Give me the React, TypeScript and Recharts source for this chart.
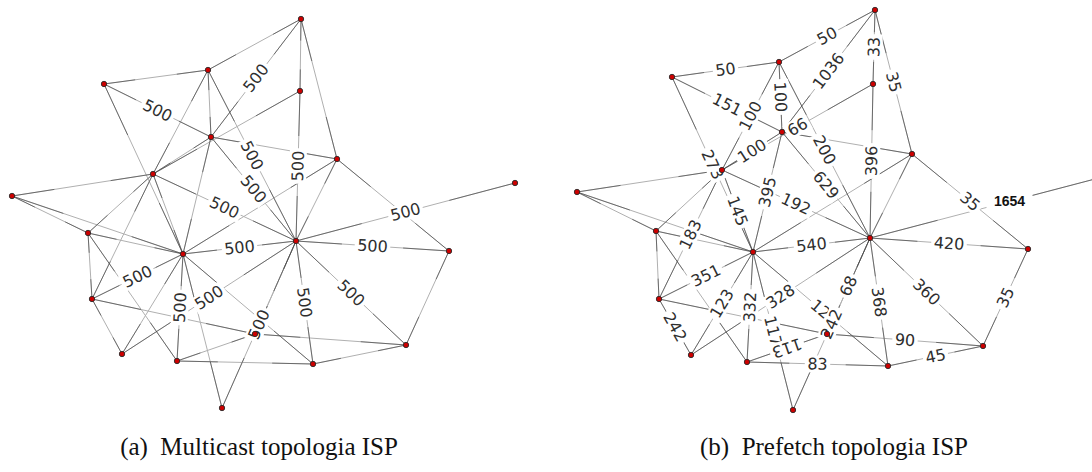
import { ScatterChart, Scatter, XAxis, YAxis } from 'recharts';

// node ids shared by both topologies
const nodeIds = ['A', 'B', 'C', 'D', 'E', 'F', 'G', 'H', 'I', 'J', 'K', 'L', 'M', 'N', 'O', 'P', 'Q', 'R', 'S', 'T'];

// (a) multicast – node positions
const multicastX = [208, 104, 211, 153, 12, 301, 300, 337, 515, 88, 183, 92, 122, 177, 255, 222, 296, 449, 406, 313];
const multicastY = [70, 84, 137, 174, 196, 19, 91, 159, 183, 233, 254, 299, 354, 361, 334, 408, 241, 251, 345, 364];

// (b) prefetch
const prefetchX = [779, 672, 782, 722, 577, 875, 873, 912, 1095, 656, 753, 659, 691, 747, 827, 793, 870, 1028, 983, 888];
const prefetchY = [62, 77, 132, 170, 192, 10, 84, 154, 179, 231, 252, 299, 355, 362, 334, 410, 238, 249, 346, 366];

const edges: [string, string][] = [
  ['A', 'B'], ['A', 'F'], ['F', 'C'], ['F', 'G'], ['F', 'H'], ['G', 'Q'], ['G', 'D'], ['A', 'C'],
  ['B', 'C'], ['A', 'D'], ['C', 'D'], ['A', 'Q'], ['C', 'Q'], ['B', 'K'], ['C', 'K'], ['D', 'Q'],
  ['D', 'K'], ['D', 'L'], ['K', 'Q'], ['L', 'K'], ['K', 'M'], ['K', 'N'], ['Q', 'M'], ['L', 'O'],
  ['K', 'T'], ['L', 'M'], ['N', 'T'], ['Q', 'O'], ['Q', 'P'], ['Q', 'T'], ['Q', 'S'], ['Q', 'R'],
  ['R', 'S'], ['O', 'S'], ['T', 'S'], ['H', 'R'], ['Q', 'I'], ['K', 'P'], ['N', 'O'], ['C', 'H'],
  ['H', 'K'], ['H', 'Q'], ['E', 'D'], ['E', 'J'], ['E', 'K'], ['J', 'D'], ['J', 'K'], ['J', 'L'],
  ['J', 'N'],
];

// edge weights, '' = no label drawn
const multicastWeights = [
  '', '', '500', '', '', '500', '', '',
  '500', '', '', '500', '500', '', '', '500',
  '', '', '500', '500', '', '500', '500', '',
  '', '', '', '', '500', '500', '500', '500',
  '', '', '', '', '500', '', '', '',
  '', '', '', '', '', '', '', '',
  '',
];
const prefetchWeights = [
  '50', '50', '1036', '33', '35', '396', '66', '100',
  '151', '100', '100', '200', '629', '273', '395', '192',
  '145', '183', '540', '351', '123', '332', '328', '',
  '12', '242', '83', '68', '242', '368', '360', '420',
  '35', '90', '45', '35', '1654', '117', '113', '',
  '', '', '', '', '', '', '', '',
  '',
];
const prefetchFlipped = ['N-O'];
const prefetchHighlight = ['Q-I'];

const captions = ['(a)  Multicast topologia ISP', '(b)  Prefetch topologia ISP'];

type Pt = { id: string; x: number; y: number };

function buildNodes(xs: number[], ys: number[]): Pt[] {
  return nodeIds.map((id, i) => ({ id, x: xs[i], y: ys[i] }));
}

function buildGraph(xs: number[], ys: number[], weights: string[], flipped: string[] = [], highlight: string[] = []) {
  const nodes = buildNodes(xs, ys);
  const byId: Record<string, Pt> = {};
  nodes.forEach((n) => (byId[n.id] = n));
  const segs = edges.map(([a, b]) => [byId[a], byId[b]]);
  const labels: any[] = [];
  edges.forEach(([a, b], i) => {
    const text = weights[i];
    if (!text) return;
    const p = byId[a];
    const q = byId[b];
    const key = `${a}-${b}`;
    const bold = highlight.includes(key);
    let angle = (Math.atan2(q.y - p.y, q.x - p.x) * 180) / Math.PI;
    if (angle > 90) angle -= 180;
    if (angle <= -90) angle += 180;
    if (flipped.includes(key)) angle += 180;
    const t = bold ? 0.62 : 0.5;
    labels.push({
      x: p.x + (q.x - p.x) * t,
      y: p.y + (q.y - p.y) * t,
      text,
      angle: bold ? 0 : angle,
      bold,
    });
  });
  return { nodes, segs, labels };
}

const multicast = buildGraph(multicastX, multicastY, multicastWeights);
const prefetch = buildGraph(prefetchX, prefetchY, prefetchWeights, prefetchFlipped, prefetchHighlight);

const NoShape = () => <g />;

const NodeShape = (props: any) => (
  <circle cx={props.cx} cy={props.cy} r={2.7} fill="#cc0000" stroke="#2a2a2a" strokeWidth={0.9} />
);

const LabelShape = (props: any) => {
  const { cx, cy, payload } = props;
  const bold = payload.bold;
  const w = payload.text.length * (bold ? 9.5 : 10.2) + (bold ? 8 : 5);
  return (
    <g transform={`translate(${cx},${cy}) rotate(${payload.angle})`}>
      <rect x={-w / 2} y={-8.5} width={w} height={17} fill="#fff" />
      <text
        x={0}
        y={0}
        textAnchor="middle"
        dominantBaseline="central"
        fontFamily={bold ? 'Liberation Sans, Arial, sans-serif' : 'DejaVu Sans, sans-serif'}
        fontWeight={bold ? 700 : 400}
        fontSize={bold ? 14 : 16}
        fill={bold ? '#111' : '#2e2e2e'}
      >
        {payload.text}
      </text>
    </g>
  );
};

// each edge: a pale full line, then darker pieces near both ends
function Graph({ g, name }: { g: ReturnType<typeof buildGraph>; name: string }) {
  return (
    <>
      {g.segs.map((seg, i) => (
        <Scatter
          key={`${name}-e${i}`}
          data={seg}
          line={{ stroke: '#b0b0b0', strokeWidth: 1 }}
          shape={NoShape}
          isAnimationActive={false}
        />
      ))}
      {g.segs.map((seg, i) => (
        <Scatter
          key={`${name}-d${i}`}
          data={seg}
          line={{ stroke: '#3a3a3a', strokeWidth: 1, strokeOpacity: 0.6, pathLength: 100, strokeDasharray: '30 40 30' }}
          shape={NoShape}
          isAnimationActive={false}
        />
      ))}
    </>
  );
}

export default function App() {
  return (
    <div style={{ position: 'relative', width: 1092, height: 472, background: '#fff' }}>
      <style>{'body{margin:0;background:#fff}'}</style>
      <ScatterChart width={1092} height={472} margin={{ top: 0, right: 0, bottom: 0, left: 0 }}>
        <XAxis type="number" dataKey="x" domain={[0, 1092]} hide allowDataOverflow />
        <YAxis type="number" dataKey="y" domain={[0, 472]} hide reversed allowDataOverflow />
        {Graph({ g: multicast, name: 'm' })}
        {Graph({ g: prefetch, name: 'p' })}
        <Scatter data={multicast.labels} shape={LabelShape} isAnimationActive={false} />
        <Scatter data={prefetch.labels} shape={LabelShape} isAnimationActive={false} />
        <Scatter data={multicast.nodes} shape={NodeShape} isAnimationActive={false} />
        <Scatter data={prefetch.nodes} shape={NodeShape} isAnimationActive={false} />
      </ScatterChart>
      {captions.map((c, i) => (
        <div
          key={c}
          style={{
            position: 'absolute',
            top: 432,
            left: i === 0 ? 259 - 200 : 834 - 200,
            width: 400,
            textAlign: 'center',
            fontFamily: 'Liberation Serif, Times New Roman, serif',
            fontSize: 25,
            lineHeight: '30px',
            color: '#111',
            whiteSpace: 'pre',
          }}
        >
          {c}
        </div>
      ))}
    </div>
  );
}
